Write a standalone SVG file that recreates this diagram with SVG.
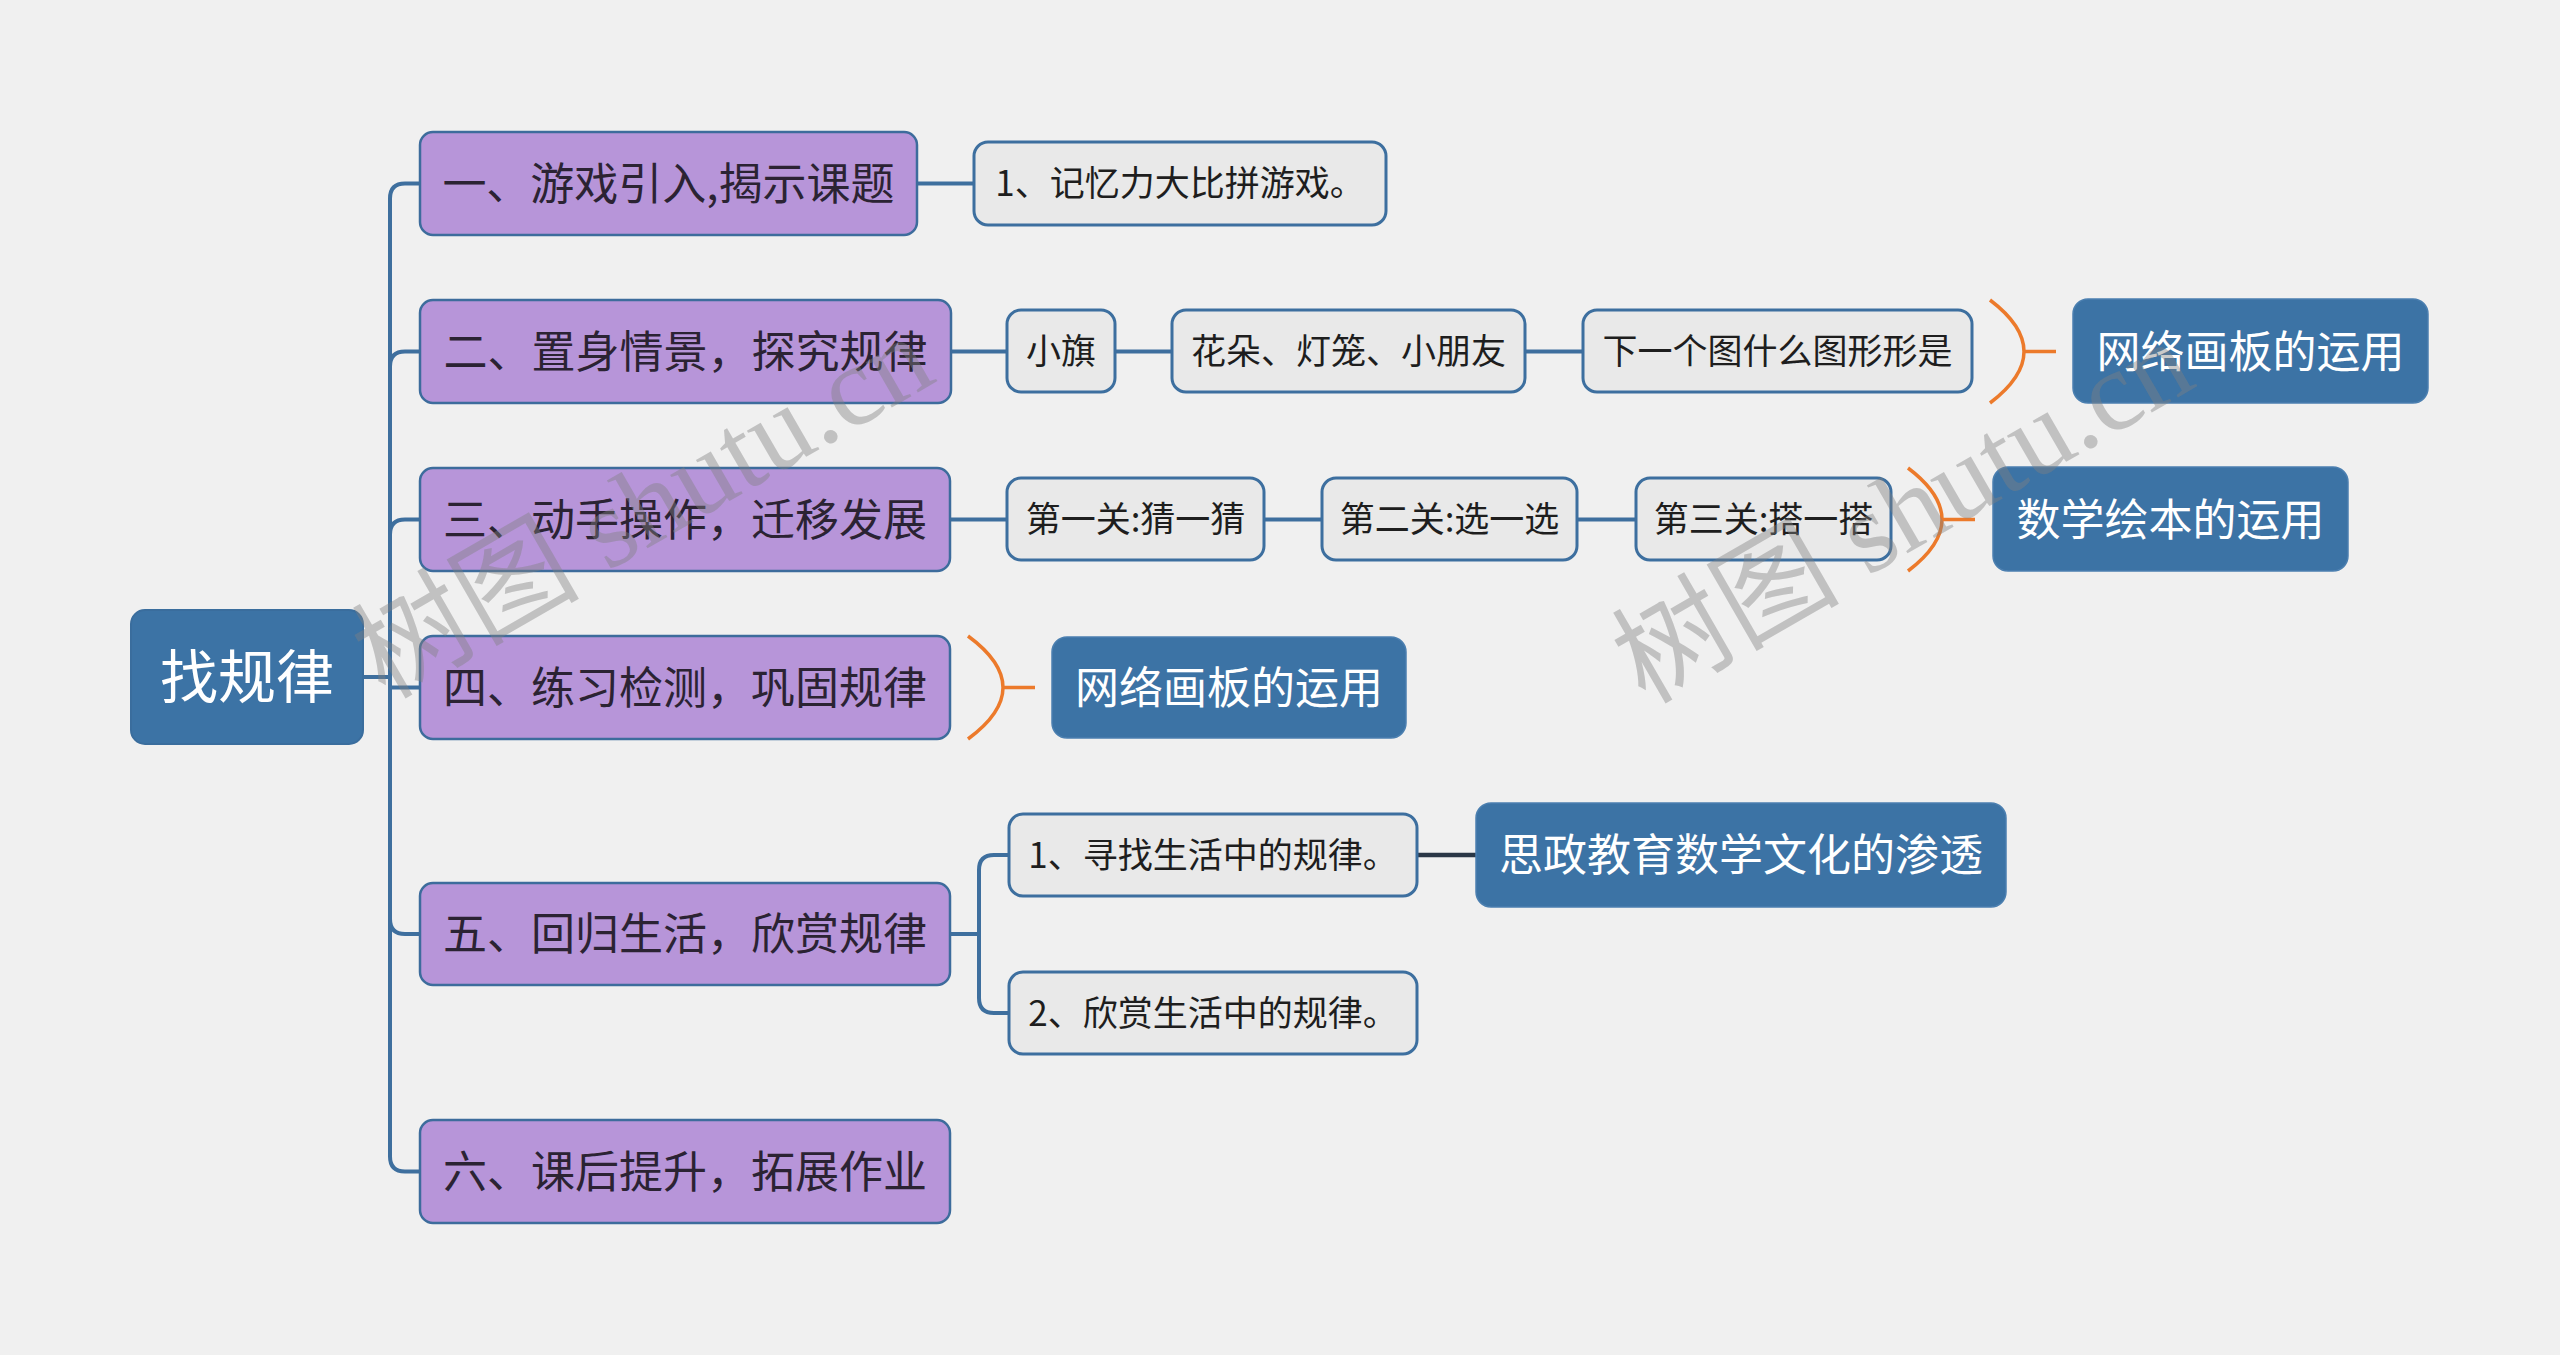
<svg xmlns="http://www.w3.org/2000/svg" width="2560" height="1355" viewBox="0 0 2560 1355">
<defs>
<style>
.bg{fill:#f0f0f0}
.root{fill:#3c73a5;stroke:#3a6d9d;stroke-width:2}
.main{fill:#b795d9;stroke:#3d6c9c;stroke-width:2.5}
.sub{fill:#e9e9e9;stroke:#3d6f9f;stroke-width:3}
.blue{fill:#3c73a5;stroke:#4b7fb0;stroke-width:1.5}
.t{font-family:"Microsoft YaHei","Noto Sans CJK SC","Noto Sans",sans-serif;text-anchor:middle}
.tm{font-size:44px;fill:#2b2333}
.ts{font-size:35px;fill:#1e1e1e}
.tb{font-size:44px;fill:#ffffff}
.tr{font-size:58px;fill:#ffffff}
.ln{fill:none;stroke:#3e6f9e;stroke-width:4}
.dk{fill:none;stroke:#2a3746;stroke-width:4.5}
.br{fill:none;stroke:#ec7a2b;stroke-width:3.5}
.wm{font-family:"Liberation Serif","Noto Sans CJK SC",serif;font-size:114px;fill:#808080;fill-opacity:0.42}
</style>
</defs>
<rect class="bg" x="0" y="0" width="2560" height="1355"/>

<g id="connectors">
<path class="ln" d="M363 677 H390"/>
<path class="ln" d="M420 183.5 H405 Q390 183.5 390 198.5 V1156.5 Q390 1171.5 405 1171.5 H420"/>
<path class="ln" d="M390 366.5 Q390 351.5 405 351.5 H420"/>
<path class="ln" d="M390 534.5 Q390 519.5 405 519.5 H420"/>
<path class="ln" d="M390 687.5 H420"/>
<path class="ln" d="M390 919 Q390 934 405 934 H420"/>
<path class="ln" d="M917 183.5 H974"/>
<path class="ln" d="M951 351.5 H1007 M1115 351.5 H1172 M1525 351.5 H1583"/>
<path class="ln" d="M950 519.5 H1007 M1264 519.5 H1322 M1577 519.5 H1636"/>
<path class="ln" d="M950 934 H979 M1009 855 H994 Q979 855 979 870 V998 Q979 1013 994 1013 H1009"/>
<path class="dk" d="M1417 855 H1476"/>
<path class="br" d="M1990 300 Q2058 351.5 1990 403 M2024 351.5 H2056"/>
<path class="br" d="M1908 468 Q1976 519.5 1908 571 M1942 519.5 H1975"/>
<path class="br" d="M968 636 Q1038 687.5 968 739 M1003 687.5 H1035"/>
</g>

<g id="root">
<rect class="root" x="131" y="610" width="232" height="134" rx="14"/>
<text class="t tr" x="247" y="698">找规律</text>
</g>

<g id="n1">
<rect class="main" x="420" y="132" width="497" height="103" rx="13"/>
<text class="t tm" x="668.5" y="199.5">一、游戏引入,揭示课题</text>
</g>
<g id="n1-1">
<rect class="sub" x="974" y="142" width="412" height="83" rx="14"/>
<text class="t ts" x="1180" y="196">1、记忆力大比拼游戏。</text>
</g>

<g id="n2">
<rect class="main" x="420" y="300" width="531" height="103" rx="13"/>
<text class="t tm" x="685.5" y="367.5">二、置身情景，探究规律</text>
</g>
<g id="n2-1">
<rect class="sub" x="1007" y="310" width="108" height="82" rx="14"/>
<text class="t ts" x="1061" y="364">小旗</text>
</g>
<g id="n2-2">
<rect class="sub" x="1172" y="310" width="353" height="82" rx="14"/>
<text class="t ts" x="1348.5" y="364">花朵、灯笼、小朋友</text>
</g>
<g id="n2-3">
<rect class="sub" x="1583" y="310" width="389" height="82" rx="14"/>
<text class="t ts" x="1777.5" y="364">下一个图什么图形形是</text>
</g>
<g id="n2-s">
<rect class="blue" x="2073" y="299" width="355" height="104" rx="15"/>
<text class="t tb" x="2250.5" y="367.5">网络画板的运用</text>
</g>

<g id="n3">
<rect class="main" x="420" y="468" width="530" height="103" rx="13"/>
<text class="t tm" x="685" y="535.5">三、动手操作，迁移发展</text>
</g>
<g id="n3-1">
<rect class="sub" x="1007" y="478" width="257" height="82" rx="14"/>
<text class="t ts" x="1135.5" y="532">第一关:猜一猜</text>
</g>
<g id="n3-2">
<rect class="sub" x="1322" y="478" width="255" height="82" rx="14"/>
<text class="t ts" x="1449.5" y="532">第二关:选一选</text>
</g>
<g id="n3-3">
<rect class="sub" x="1636" y="478" width="255" height="82" rx="14"/>
<text class="t ts" x="1763.5" y="532">第三关:搭一搭</text>
</g>
<g id="n3-s">
<rect class="blue" x="1993" y="467" width="355" height="104" rx="15"/>
<text class="t tb" x="2170.5" y="535.5">数学绘本的运用</text>
</g>

<g id="n4">
<rect class="main" x="420" y="636" width="530" height="103" rx="13"/>
<text class="t tm" x="685" y="703.5">四、练习检测，巩固规律</text>
</g>
<g id="n4-s">
<rect class="blue" x="1052" y="637" width="354" height="101" rx="15"/>
<text class="t tb" x="1229" y="703.5">网络画板的运用</text>
</g>

<g id="n5">
<rect class="main" x="420" y="883" width="530" height="102" rx="13"/>
<text class="t tm" x="685" y="950">五、回归生活，欣赏规律</text>
</g>
<g id="n5-1">
<rect class="sub" x="1009" y="814" width="408" height="82" rx="14"/>
<text class="t ts" x="1213" y="868">1、寻找生活中的规律。</text>
</g>
<g id="n5-2">
<rect class="sub" x="1009" y="972" width="408" height="82" rx="14"/>
<text class="t ts" x="1213" y="1026">2、欣赏生活中的规律。</text>
</g>
<g id="n5-s">
<rect class="blue" x="1476" y="803" width="530" height="104" rx="15"/>
<text class="t tb" x="1741" y="871">思政教育数学文化的渗透</text>
</g>

<g id="n6">
<rect class="main" x="420" y="1120" width="530" height="103" rx="13"/>
<text class="t tm" x="685" y="1187.5">六、课后提升，拓展作业</text>
</g>

<g id="watermark">
<text class="wm" x="385" y="700" transform="rotate(-30 385 700)">树图 shutu.cn</text>
<text class="wm" x="1645" y="705" transform="rotate(-30 1645 705)">树图 shutu.cn</text>
</g>
</svg>
